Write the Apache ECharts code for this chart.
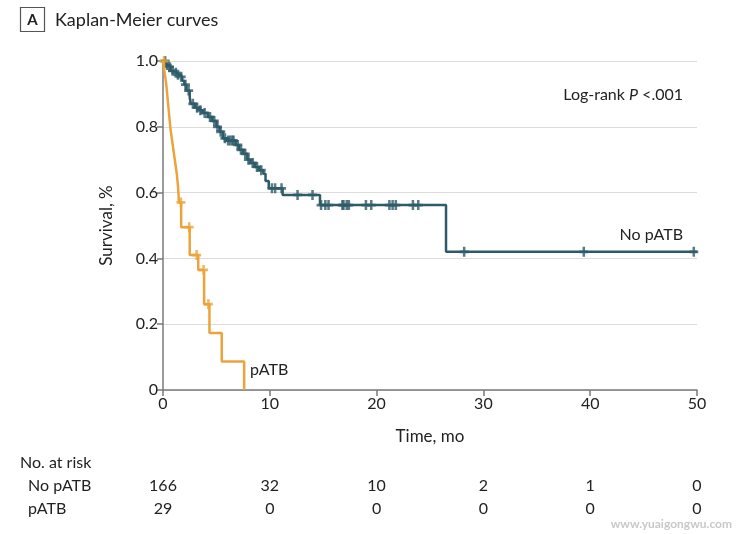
<!DOCTYPE html>
<html><head><meta charset="utf-8">
<script src="https://cdn.jsdelivr.net/npm/echarts@6/dist/echarts.min.js"></script>
<style>html,body{margin:0;padding:0;background:#fff}#c{width:740px;height:534px}</style>
</head><body><div id="c"></div>
<script>
const xTicks = [0, 10, 20, 30, 40, 50];
const riskGroups = ['No pATB', 'pATB'];
const riskNoPatb = [166, 32, 10, 2, 1, 0];
const riskPatb = [29, 0, 0, 0, 0, 0];

// No pATB: event times (mo) and survival after each event
const noPatbTimes = [0, 0.3, 0.5, 0.7, 1.0, 1.3, 1.5, 1.8, 2.0, 2.2, 2.5, 2.6, 3.0, 3.4, 3.7, 4.2, 4.6, 5.0, 5.3, 5.6, 6.0, 6.8, 7.1, 7.5, 7.9, 8.2, 8.6, 9.0, 9.4, 9.6, 9.9, 11.2, 14.7, 26.5, 50];
const noPatbSurv  = [1.0, 0.988, 0.982, 0.97, 0.964, 0.958, 0.952, 0.94, 0.928, 0.91, 0.89, 0.87, 0.858, 0.85, 0.842, 0.83, 0.818, 0.80, 0.785, 0.765, 0.758, 0.745, 0.73, 0.718, 0.70, 0.69, 0.678, 0.668, 0.657, 0.635, 0.613, 0.593, 0.562, 0.42, 0.42];
const noPatbCensor = [0.2, 0.4, 0.6, 0.9, 1.2, 1.4, 1.7, 2.1, 2.4, 2.8, 3.2, 3.5, 3.9, 4.4, 4.8, 5.1, 5.4, 5.8, 6.1, 6.3, 6.5, 6.6, 7.0, 7.3, 7.7, 8.0, 8.4, 8.8, 9.2, 10.2, 10.5, 11.1, 12.6, 14.0, 14.8, 15.2, 15.5, 16.8, 16.9, 17.2, 17.4, 19.0, 19.5, 21.2, 21.5, 21.8, 23.4, 23.9, 28.2, 39.4, 49.7];

// pATB
const patbTimes = [0, 0.15, 0.3, 0.4, 0.5, 0.6, 0.7, 0.85, 1.0, 1.15, 1.3, 1.4, 1.5, 1.7, 2.5, 3.3, 3.85, 4.35, 5.5, 7.6];
const patbSurv  = [1.0, 0.966, 0.931, 0.897, 0.862, 0.828, 0.793, 0.759, 0.724, 0.69, 0.655, 0.62, 0.57, 0.495, 0.41, 0.365, 0.261, 0.173, 0.087, 0];
const patbCensor = [0.1, 1.68, 2.45, 3.15, 3.8, 4.25];

const TEAL = '#2d5b69';
const ORANGE = '#eca43a';
const FONT = 'Lato';

function survAt(times, surv, t) {
  let s = surv[0];
  for (let i = 0; i < times.length; i++) { if (times[i] <= t) s = surv[i]; }
  return s;
}
const pairs = (a, b) => a.map((v, i) => [v, b[i]]);
const censorPts = (c, times, surv) => c.map(t => [t, survAt(times, surv, t)]);

const chart = echarts.init(document.getElementById('c'), null, { renderer: 'canvas' });
const plusSym = { symbol: 'path://M0,3.6h3.6v-3.6h2.8v3.6h3.6v2.8h-3.6v3.6h-2.8v-3.6h-3.6z', symbolSize: [9, 10] };

chart.setOption({
  animation: false,
  backgroundColor: '#fff',
  textStyle: { fontFamily: FONT },
  grid: { left: 163, right: 43, top: 61, bottom: 144, containLabel: false },
  xAxis: {
    type: 'value', min: 0, max: 50, interval: 10,
    name: 'Time, mo', nameLocation: 'middle', nameGap: 38,
    nameTextStyle: { fontSize: 17, color: '#222', fontFamily: FONT },
    axisLine: { show: true, onZero: false, lineStyle: { color: '#7a7a7a', width: 1.5 } },
    axisTick: { show: true, length: 6, lineStyle: { color: '#7a7a7a', width: 1.5 } },
    axisLabel: { fontSize: 16, color: '#222', margin: 6, fontFamily: FONT },
    splitLine: { show: false }
  },
  yAxis: {
    type: 'value', min: 0, max: 1, interval: 0.2,
    name: 'Survival, %', nameLocation: 'middle', nameGap: 48, nameRotate: 90,
    nameTextStyle: { fontSize: 17, color: '#222', fontFamily: FONT },
    axisLine: { show: true, lineStyle: { color: '#7a7a7a', width: 1.5 } },
    axisTick: { show: true, length: 6, lineStyle: { color: '#7a7a7a', width: 1.5 } },
    axisLabel: { fontSize: 16, color: '#222', margin: 5, fontFamily: FONT,
      formatter: v => v === 0 ? '0' : v.toFixed(1) },
    splitLine: { show: true, lineStyle: { color: '#dcdcdc', width: 1.2 } }
  },
  series: [
    { type: 'line', name: 'No pATB', step: 'end', data: pairs(noPatbTimes, noPatbSurv),
      showSymbol: false, lineStyle: { color: TEAL, width: 2.5 }, z: 3 },
    { type: 'scatter', data: censorPts(noPatbCensor, noPatbTimes, noPatbSurv), ...plusSym,
      itemStyle: { color: TEAL }, z: 4 },
    { type: 'line', name: 'pATB', step: 'end', data: pairs(patbTimes, patbSurv),
      showSymbol: false, lineStyle: { color: ORANGE, width: 2.5 }, z: 5 },
    { type: 'scatter', data: censorPts(patbCensor, patbTimes, patbSurv), ...plusSym,
      itemStyle: { color: ORANGE }, z: 6 }
  ]
});

const g = [
  { type: 'rect', shape: { x: 20.5, y: 7.5, width: 24, height: 24 }, style: { fill: '#fff', stroke: '#555', lineWidth: 1.2 } },
  { type: 'text', x: 32.5, y: 20, style: { text: 'A', font: 'bold 15px ' + FONT, fill: '#222', align: 'center', verticalAlign: 'middle' } },
  { type: 'text', x: 55, y: 20, style: { text: 'Kaplan-Meier curves', font: '18px ' + FONT, fill: '#222', verticalAlign: 'middle' } },
  { type: 'text', x: 683, y: 95, style: {
      text: '{n|Log-rank }{i|P}{n| <.001}', align: 'right', verticalAlign: 'middle',
      rich: { n: { font: '16px ' + FONT, fill: '#222' }, i: { font: 'italic 16px ' + FONT, fill: '#222' } } } },
  { type: 'text', x: 683, y: 235, style: { text: 'No pATB', font: '16px ' + FONT, fill: '#222', align: 'right', verticalAlign: 'middle' } },
  { type: 'text', x: 250, y: 370, style: { text: 'pATB', font: '16px ' + FONT, fill: '#222', verticalAlign: 'middle' } },
  { type: 'text', x: 20, y: 463, style: { text: 'No. at risk', font: '16px ' + FONT, fill: '#222', verticalAlign: 'middle' } },
  { type: 'text', x: 28, y: 486, style: { text: riskGroups[0], font: '16px ' + FONT, fill: '#222', verticalAlign: 'middle' } },
  { type: 'text', x: 28, y: 509, style: { text: riskGroups[1], font: '16px ' + FONT, fill: '#222', verticalAlign: 'middle' } },
  { type: 'text', x: 732, y: 524, style: { text: 'www.yuaigongwu.com', font: 'bold 12px ' + FONT, fill: '#c8c8c8', align: 'right', verticalAlign: 'middle' } }
];
xTicks.forEach((t, i) => {
  const px = chart.convertToPixel({ xAxisIndex: 0 }, t);
  g.push({ type: 'text', x: px, y: 486, style: { text: String(riskNoPatb[i]), font: '16px ' + FONT, fill: '#222', align: 'center', verticalAlign: 'middle' } });
  g.push({ type: 'text', x: px, y: 509, style: { text: String(riskPatb[i]), font: '16px ' + FONT, fill: '#222', align: 'center', verticalAlign: 'middle' } });
});
chart.setOption({ graphic: g });
</script>
</body></html>
